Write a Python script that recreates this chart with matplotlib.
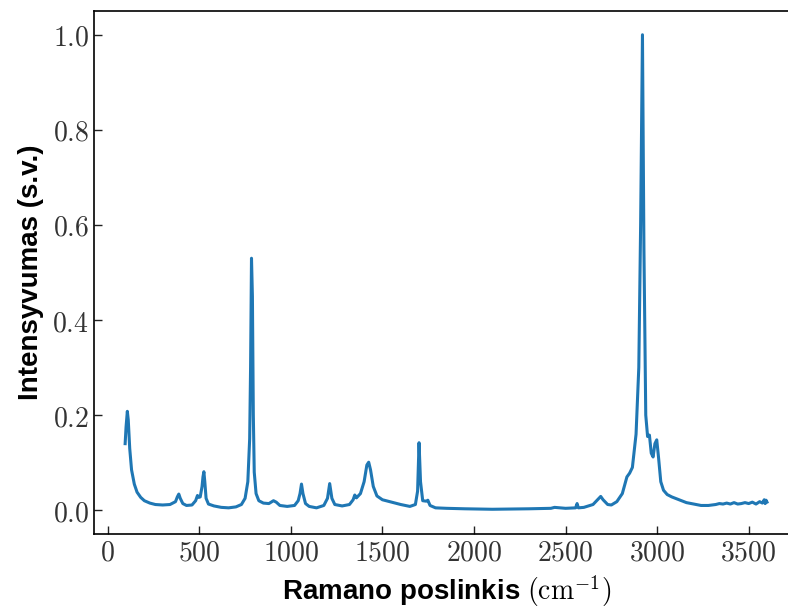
import matplotlib
matplotlib.use("Agg")
import matplotlib.pyplot as plt
from matplotlib.ticker import FuncFormatter

# Raman spectrum
shift = [95, 100, 107, 112, 120, 130, 145, 160, 180, 200, 230, 260, 300, 340, 370, 380, 388, 396, 410, 430,
         460, 480, 490, 497, 505, 515, 520, 525, 530, 537, 550, 580, 620, 660, 700, 730, 750, 765, 775, 780,
         785, 790, 795, 800, 810, 825, 850, 880, 905, 920, 940, 980, 1020, 1040, 1050, 1058, 1066, 1080, 1100, 1140,
         1180, 1200, 1212, 1224, 1240, 1280, 1320, 1340, 1349, 1358, 1380, 1400, 1415, 1425, 1435, 1450, 1470, 1500, 1550, 1600,
         1650, 1680, 1692, 1700, 1708, 1720, 1740, 1748, 1760, 1790, 1850, 1950, 2100, 2300, 2420, 2440, 2500, 2555, 2563, 2570,
         2600, 2650, 2680, 2692, 2705, 2730, 2750, 2780, 2810, 2835, 2850, 2865, 2885, 2900, 2910, 2920, 2928, 2938, 2948, 2958,
         2968, 2978, 2988, 2998, 3008, 3020, 3035, 3055, 3080, 3120, 3160, 3200, 3240, 3280, 3320, 3340, 3360, 3380, 3400, 3420,
         3440, 3460, 3480, 3500, 3520, 3540, 3560, 3575, 3585, 3590, 3595, 3600]
intensity = [0.14, 0.175, 0.208, 0.19, 0.13, 0.085, 0.055, 0.038, 0.027, 0.02, 0.015, 0.012, 0.011, 0.012, 0.018, 0.028, 0.034, 0.025, 0.014, 0.01,
             0.011, 0.02, 0.031, 0.027, 0.028, 0.05, 0.07, 0.081, 0.06, 0.025, 0.013, 0.009, 0.006, 0.005, 0.007, 0.012, 0.025, 0.06, 0.15, 0.3,
             0.53, 0.45, 0.2, 0.08, 0.035, 0.02, 0.015, 0.014, 0.02, 0.017, 0.01, 0.008, 0.01, 0.02, 0.035, 0.055, 0.035, 0.014, 0.008, 0.005,
             0.01, 0.025, 0.056, 0.025, 0.012, 0.009, 0.012, 0.022, 0.032, 0.026, 0.035, 0.06, 0.095, 0.101, 0.085, 0.05, 0.03, 0.022, 0.017, 0.012,
             0.008, 0.012, 0.04, 0.142, 0.06, 0.02, 0.019, 0.021, 0.01, 0.005, 0.004, 0.003, 0.002, 0.003, 0.004, 0.006, 0.004, 0.005, 0.014, 0.005,
             0.006, 0.012, 0.024, 0.029, 0.022, 0.012, 0.011, 0.018, 0.035, 0.07, 0.078, 0.09, 0.16, 0.3, 0.6, 1.0, 0.55, 0.2, 0.155, 0.158,
             0.12, 0.112, 0.14, 0.148, 0.11, 0.06, 0.042, 0.033, 0.028, 0.022, 0.016, 0.013, 0.01, 0.01, 0.012, 0.014, 0.013, 0.015, 0.013, 0.016,
             0.013, 0.014, 0.016, 0.014, 0.017, 0.013, 0.018, 0.015, 0.022, 0.014, 0.021, 0.017]

x_ticks = [0, 500, 1000, 1500, 2000, 2500, 3000, 3500]
y_ticks = [0.0, 0.2, 0.4, 0.6, 0.8, 1.0]

plt.rcParams['mathtext.fontset'] = 'cm'

fig = plt.figure(figsize=(7.88, 6.10), dpi=100)
# right spine falls outside the picture in the reference
ax = fig.add_axes([0.1193, 0.1246, 0.8947, 0.8574])
ax.plot(shift, intensity, color='#1f77b4', linewidth=2.2)

ax.set_xlim(-75, 3775)
ax.set_ylim(-0.05, 1.05)
ax.set_xticks(x_ticks)
ax.set_yticks(y_ticks)
ax.xaxis.set_major_formatter(FuncFormatter(lambda v, p: r"$%d$" % v))
ax.yaxis.set_major_formatter(FuncFormatter(lambda v, p: r"$%.1f$" % v))
ax.tick_params(direction='in', length=5.5, width=1, labelsize=20, colors='#222222', labelcolor='#333333')
for s in ax.spines.values():
    s.set_linewidth(1.2)
ax.spines['right'].set_visible(False)

ax.set_xlabel(r"Ramano poslinkis $(\mathrm{cm}^{-1})$", fontsize=20, fontweight='bold',
              family='Liberation Sans', labelpad=5)
ax.set_ylabel("Intensyvumas (s.v.)", fontsize=20, fontweight='bold',
              family='Liberation Sans', labelpad=6)

fig.savefig("out.png", dpi=100)
